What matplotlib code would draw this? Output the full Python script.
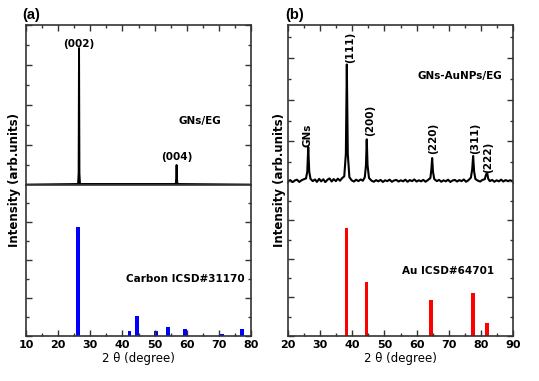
import numpy as np
import matplotlib
matplotlib.use("Agg")
import matplotlib.pyplot as plt
from matplotlib.ticker import MultipleLocator

plt.rcParams['font.family'] = ['DejaVu Sans']
plt.rcParams['font.weight'] = 'bold'

# (a) GNs/EG measured pattern (hand-read points)
gn_x = [10, 26.2, 26.38, 26.5, 26.62, 26.8, 56.6, 56.75, 56.85, 56.95, 57.1, 80]
gn_y = [0.02, 0.05, 0.6, 6.85, 0.6, 0.05, 0.05, 0.4, 1.0, 0.4, 0.05, 0.02]

# Carbon ICSD#31170 reference lines
c_pos = [26.1, 42.2, 44.5, 50.4, 54.1, 59.5, 71.0, 77.3]
c_int = [5.74, 0.26, 1.05, 0.26, 0.47, 0.37, 0.10, 0.37]

# (b) GNs-AuNPs/EG measured pattern (hand-read points)
au_x = [20.0, 20.7, 21.4, 22.1, 22.8, 23.5, 24.2, 24.9, 25.6, 26.0, 26.3, 26.6, 27.0,
        27.7, 28.4, 29.0, 29.7, 30.3, 31.0, 31.6, 32.3, 32.9, 33.6, 34.2, 34.9, 35.5,
        36.2, 36.8, 37.5, 38.0, 38.3, 38.6, 39.1, 39.8, 40.5, 41.2, 41.9, 42.6, 43.3,
        43.9, 44.25, 44.5, 44.75, 45.2, 46.0, 46.7, 47.4, 48.1, 48.8, 49.5, 50.2, 50.9,
        51.6, 52.3, 53.0, 53.7, 54.4, 55.1, 55.8, 56.5, 57.2, 57.9, 58.6, 59.3, 60.0,
        60.7, 61.4, 62.1, 62.8, 63.5, 64.3, 64.6, 64.85, 65.1, 65.5, 66.3, 67.0, 67.7,
        68.4, 69.1, 69.8, 70.5, 71.2, 71.9, 72.6, 73.3, 74.0, 74.7, 75.4, 76.1, 76.9,
        77.3, 77.6, 77.9, 78.3, 79.1, 79.8, 80.5, 81.2, 81.6, 81.95, 82.3, 82.8, 83.5,
        84.2, 84.9, 85.6, 86.3, 87.0, 87.7, 88.4, 89.1, 90.0]
au_y = [0.08, 0.14, 0.04, 0.12, 0.16, 0.05, 0.13, 0.18, 0.22, 0.55, 1.73, 0.55, 0.20,
        0.09, 0.17, 0.05, 0.20, 0.08, 0.18, 0.04, 0.16, 0.22, 0.07, 0.19, 0.09, 0.21,
        0.11, 0.23, 0.32, 1.40, 5.70, 1.40, 0.28, 0.13, 0.07, 0.16, 0.09, 0.17, 0.11,
        0.28, 0.85, 2.10, 0.85, 0.24, 0.11, 0.06, 0.14, 0.08, 0.15, 0.05, 0.13, 0.09,
        0.16, 0.06, 0.12, 0.15, 0.07, 0.13, 0.08, 0.16, 0.06, 0.14, 0.09, 0.17, 0.07,
        0.13, 0.08, 0.15, 0.06, 0.14, 0.24, 0.65, 1.20, 0.55, 0.19, 0.09, 0.15, 0.06,
        0.13, 0.08, 0.16, 0.05, 0.12, 0.15, 0.07, 0.14, 0.09, 0.17, 0.06, 0.13, 0.26,
        0.65, 1.30, 0.55, 0.19, 0.11, 0.07, 0.15, 0.18, 0.40, 0.50, 0.20, 0.09, 0.15,
        0.06, 0.13, 0.08, 0.16, 0.07, 0.14, 0.09, 0.13, 0.08]

# Au ICSD#64701 reference lines
au_pos = [38.2, 44.4, 64.6, 77.6, 81.8]
au_int = [5.60, 2.80, 1.87, 2.23, 0.67]

# peak labels (b)
peak_lbl = ['GNs', '(111)', '(200)', '(220)', '(311)', '(222)']
peak_lx = [26.2, 39.3, 45.5, 65.2, 78.2, 82.3]
peak_ly = [2.3, 6.5, 3.0, 2.15, 2.15, 1.25]

W, H = 539, 381
fig = plt.figure(figsize=(W / 100, H / 100), dpi=100)

def box(x0, y_top, x1, y_bot):
    return [x0 / W, 1 - y_bot / H, (x1 - x0) / W, (y_bot - y_top) / H]

axA1 = fig.add_axes(box(26, 25, 251, 185))
axA2 = fig.add_axes(box(26, 185, 251, 336))
axB1 = fig.add_axes(box(288, 25, 513, 183))
axB2 = fig.add_axes(box(288, 183, 513, 336))

for ax in [axA1, axA2, axB1, axB2]:
    for s in ax.spines.values():
        s.set_linewidth(1.2)
        s.set_color('#333333')
    ax.yaxis.set_major_locator(MultipleLocator(2))
    ax.yaxis.set_minor_locator(MultipleLocator(1))
    ax.xaxis.set_major_locator(MultipleLocator(10))
    ax.xaxis.set_minor_locator(MultipleLocator(5))
    ax.tick_params(which='both', direction='in', left=True, right=True,
                   labelleft=False, width=1.0, color='#333333')
    ax.tick_params(which='major', length=4)
    ax.tick_params(which='minor', length=2)
    ax.tick_params(axis='x', labelsize=8, pad=3)

for ax in [axA1, axB1]:
    ax.tick_params(axis='x', which='both', top=True, bottom=False, labelbottom=False)
for ax in [axA2, axB2]:
    ax.tick_params(axis='x', which='both', top=False, bottom=True)
    ax.set_xlabel('2 \u03b8 (degree)', fontsize=8.5, labelpad=1)

axB1.spines['bottom'].set_visible(False)
axB2.spines['top'].set_visible(False)

# (a)
axA1.plot(gn_x, gn_y, color='black', lw=1.4)
axA1.set_xlim(10, 80)
axA1.set_ylim(0, 8)
axA1.text(26.5, 7.05, '(002)', ha='center', va='center', fontsize=7.5)
axA1.text(56.9, 1.15, '(004)', ha='center', va='bottom', fontsize=7.5)
axA1.text(64.2, 3.2, 'GNs/EG', ha='center', va='center', fontsize=7.5)

axA2.bar(c_pos, c_int, width=1.2, color='#0000ff')
axA2.set_xlim(10, 80)
axA2.set_ylim(0, 7.95)
axA2.text(59.5, 3.0, 'Carbon ICSD#31170', ha='center', va='center', fontsize=7.5)

# (b)
axB1.plot(au_x, au_y, color='black', lw=1.5)
axB1.set_xlim(20, 90)
axB1.set_ylim(0, 7.6)
axB1.text(73.6, 5.15, 'GNs-AuNPs/EG', ha='center', va='center', fontsize=7.5)
for lbl, lx, ly in zip(peak_lbl, peak_lx, peak_ly):
    axB1.text(lx, ly, lbl, ha='center', va='center', rotation=90, fontsize=7.5)

axB2.bar(au_pos, au_int, width=1.2, color='#ff0000')
axB2.set_xlim(20, 90)
axB2.set_ylim(0, 7.93)
axB2.text(69.8, 3.37, 'Au ICSD#64701', ha='center', va='center', fontsize=7.5)

fig.text(15 / W, 1 - 180 / H, 'Intensity (arb.units)', rotation=90,
         ha='center', va='center', fontsize=8.5)
fig.text(280 / W, 1 - 180 / H, 'Intensity (arb.units)', rotation=90,
         ha='center', va='center', fontsize=8.5)
fig.text(31 / W, 1 - 15 / H, '(a)', ha='center', va='center', fontsize=10.5,
         family='Liberation Sans', weight='bold')
fig.text(295 / W, 1 - 15 / H, '(b)', ha='center', va='center', fontsize=10.5,
         family='Liberation Sans', weight='bold')

fig.savefig('out.png', dpi=100, facecolor='white')
